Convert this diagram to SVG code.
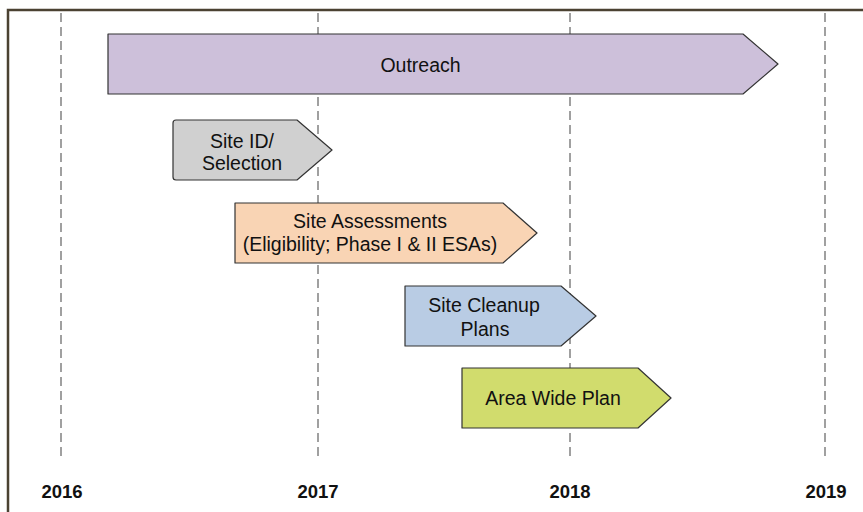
<svg xmlns="http://www.w3.org/2000/svg" width="863" height="512" viewBox="0 0 863 512">
<style>
.grid{stroke:#a0a0a0;stroke-width:2;stroke-dasharray:9 5;fill:none}
.box{stroke:#333;stroke-width:1.2;stroke-linejoin:round}
.lbl{font-family:"Liberation Sans",Arial,sans-serif;font-size:19.5px;fill:#111;text-anchor:middle}
.yr{font-family:"Liberation Sans",Arial,sans-serif;font-size:18.5px;font-weight:bold;fill:#111;text-anchor:middle}
</style>
<rect width="863" height="512" fill="#fff"/>
<path d="M8 512 V10 H863" fill="none" stroke="#4b4232" stroke-width="2.5"/>
<g id="gridlines">
<line class="grid" x1="61" y1="13" x2="61" y2="456"/>
<line class="grid" x1="318" y1="13" x2="318" y2="456"/>
<line class="grid" x1="570" y1="13" x2="570" y2="456"/>
<line class="grid" x1="825" y1="13" x2="825" y2="456"/>
</g>
<g id="outreach">
<path class="box" d="M108 34 H743 L778 64 L743 94 H108 Z" fill="#cdc0da"/>
<text class="lbl" x="420.5" y="71.5">Outreach</text>
</g>
<g id="site-id">
<path class="box" d="M176 120 H297 L332 150 L297 180 H176 Q173 180 173 177 V123 Q173 120 176 120 Z" fill="#d0d0d0"/>
<text class="lbl" x="242" y="148">Site ID/</text>
<text class="lbl" x="242" y="170">Selection</text>
</g>
<g id="site-assessments">
<path class="box" d="M235 203 H503 L537 233 L503 263 H235 Z" fill="#f9d4b4"/>
<text class="lbl" x="370" y="228">Site Assessments</text>
<text class="lbl" x="370" y="250.5">(Eligibility; Phase I &amp; II ESAs)</text>
</g>
<g id="site-cleanup">
<path class="box" d="M405 286 H561 L596 316 L561 346 H405 Z" fill="#b9cce4"/>
<text class="lbl" x="484" y="312">Site Cleanup</text>
<text class="lbl" x="485" y="336">Plans</text>
</g>
<g id="area-wide">
<path class="box" d="M462 368 H638 L671 398 L638 428 H462 Z" fill="#d1dc6d"/>
<text class="lbl" x="553" y="405">Area Wide Plan</text>
</g>
<g id="years">
<text class="yr" x="62" y="498">2016</text>
<text class="yr" x="318" y="498">2017</text>
<text class="yr" x="570" y="498">2018</text>
<text class="yr" x="826" y="498">2019</text>
</g>
</svg>
